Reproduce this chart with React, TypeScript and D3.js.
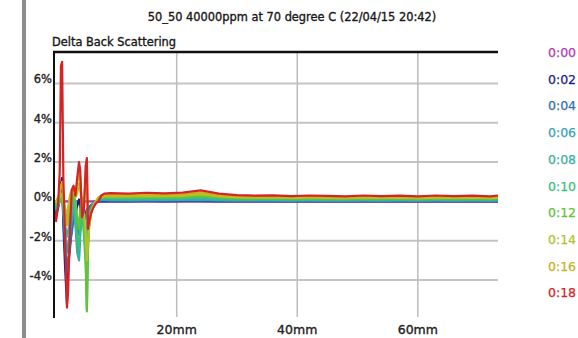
import React from 'react';
import * as d3 from 'd3';

// positions along the tube (mm)
const xMm = [
  -0.3, 0.0, 0.3, 0.6, 0.8, 1.0, 1.2, 1.5, 1.8, 2.0, 2.3, 2.6, 2.9, 3.2, 3.5, 3.8, 4.0, 4.3, 4.6, 4.9,
  5.1, 5.3, 5.5, 5.8, 6.2, 6.6, 7.0, 7.5, 8.0,
  9, 12, 15, 18, 21, 24, 27, 30, 33, 36, 39, 42, 45, 48, 51, 54, 57, 60, 63, 66, 69, 72, 73.3
];

const timeLabels = ['0:00', '0:02', '0:04', '0:06', '0:08', '0:10', '0:12', '0:14', '0:16', '0:18'];
const timeColors = ['#b03cb0', '#1c1c8c', '#2f6fb2', '#3aa2b8', '#38b2a0', '#3cc07c', '#66c238', '#b2c22c', '#cab21c', '#d42424'];

// delta backscattering (%) per scan
const d000 = [
  0, 0, 0, 0, 0, 0, 0, 0, 0, 0, 0, 0, 0, 0, 0, 0, 0, 0, 0, 0, 0, 0, 0, 0, 0, 0, 0, 0, 0,
  0, 0, 0, 0, 0, 0, 0, 0, 0, 0, 0, 0, 0, 0, 0, 0, 0, 0, 0, 0, 0, 0, 0
];
const d002 = [
  -0.3, -0.6, -0.4, 0.2, 0.9, 1.2, -1.2, -3.4, -5.2, -3.2, -2.4, -1.2, -0.5, -0.7, -0.2, 0.1, -0.3, -0.8, -0.5, -0.7,
  -0.4, -0.5, -0.3, -0.2, -0.1, 0.0, 0.0, 0.0, 0.0,
  0.01, 0.0, 0.01, 0.0, 0.01, 0.01, 0.0, 0.0, 0.0, 0.0, 0.0, 0.0, 0.0, 0.0, 0.0, 0.0, 0.0, 0.0, 0.0, 0.0, 0.0, 0.0, 0.0
];
const d004 = [
  -0.2, -0.5, -0.3, 0.1, 0.5, 0.6, -0.8, -2.4, -3.6, -2.9, -2.2, -1.6, -0.9, -0.3, -1.3, -1.7, -0.5, 0.0, -0.6, -0.9,
  -0.5, -0.7, -0.4, -0.2, -0.1, 0.0, 0.02, 0.05, 0.05,
  0.04, 0.03, 0.04, 0.04, 0.04, 0.05, 0.03, 0.03, 0.02, 0.03, 0.02, 0.02, 0.02, 0.02, 0.02, 0.02, 0.02, 0.02, 0.02, 0.02, 0.02, 0.02, 0.02
];
const d006 = [
  -0.2, -0.4, -0.2, 0.1, 0.3, 0.4, -0.5, -1.6, -2.6, -2.2, -1.6, -1.0, -0.4, -0.8, -2.2, -2.8, -1.2, -0.2, -1.0, -1.8,
  -0.9, -1.0, -0.6, -0.3, -0.1, 0.0, 0.05, 0.08, 0.08,
  0.07, 0.06, 0.07, 0.07, 0.08, 0.09, 0.06, 0.05, 0.05, 0.05, 0.04, 0.05, 0.04, 0.04, 0.05, 0.04, 0.05, 0.04, 0.05, 0.04, 0.05, 0.04, 0.05
];
const d008 = [
  -0.1, -0.3, -0.2, 0.0, 0.2, 0.2, -0.4, -1.2, -1.8, -1.5, -1.0, -0.5, -0.2, -1.2, -2.6, -3.0, -1.8, -0.6, -1.4, -2.4,
  -1.6, -1.2, -0.8, -0.4, -0.1, 0.0, 0.08, 0.12, 0.12,
  0.11, 0.10, 0.12, 0.11, 0.12, 0.15, 0.10, 0.08, 0.08, 0.08, 0.07, 0.08, 0.07, 0.07, 0.08, 0.07, 0.08, 0.07, 0.08, 0.07, 0.08, 0.07, 0.08
];
const d010 = [
  -0.1, -0.2, -0.1, 0.0, 0.1, 0.1, -0.3, -0.8, -1.2, -1.0, -0.6, -0.2, 0.2, -0.4, -1.8, -2.4, -1.2, -0.2, -1.6, -3.2,
  -5.5, -2.0, -1.0, -0.5, -0.2, 0.0, 0.1, 0.15, 0.16,
  0.16, 0.15, 0.17, 0.16, 0.17, 0.21, 0.15, 0.12, 0.11, 0.12, 0.10, 0.11, 0.10, 0.10, 0.11, 0.10, 0.11, 0.10, 0.11, 0.10, 0.11, 0.10, 0.11
];
const d012 = [
  0.0, -0.1, 0.0, 0.0, 0.1, 0.1, -0.2, -0.5, -0.8, -0.6, -0.2, 0.2, 0.4, 0.0, -0.8, -1.4, -0.4, 0.2, -1.0, -2.6,
  -5.6, -2.4, -1.2, -0.5, -0.2, 0.0, 0.12, 0.2, 0.2,
  0.21, 0.20, 0.22, 0.21, 0.22, 0.28, 0.20, 0.16, 0.15, 0.16, 0.14, 0.15, 0.14, 0.13, 0.15, 0.14, 0.15, 0.13, 0.15, 0.14, 0.15, 0.13, 0.15
];
const d014 = [
  0.0, 0.0, 0.1, 0.2, 0.3, 0.4, 0.0, -0.4, -0.6, -0.3, 0.2, 0.5, 0.6, 0.2, 0.4, 0.9, 0.6, -0.2, -0.5, -1.6,
  -3.0, -2.0, -1.2, -0.6, -0.2, 0.0, 0.15, 0.25, 0.26,
  0.27, 0.26, 0.28, 0.27, 0.29, 0.36, 0.26, 0.21, 0.19, 0.20, 0.18, 0.19, 0.18, 0.17, 0.19, 0.18, 0.19, 0.17, 0.19, 0.18, 0.19, 0.17, 0.19
];
const d016 = [
  0.0, 0.0, 0.2, 0.4, 0.8, 1.0, 0.4, -0.6, -1.2, -0.6, 0.3, 0.6, 0.7, 0.3, 0.8, 1.6, 1.2, -0.4, -0.3, 1.2,
  1.0, -1.4, -1.2, -0.6, -0.2, 0.0, 0.2, 0.3, 0.32,
  0.33, 0.32, 0.35, 0.33, 0.36, 0.45, 0.32, 0.26, 0.23, 0.25, 0.22, 0.24, 0.22, 0.21, 0.24, 0.22, 0.23, 0.21, 0.24, 0.22, 0.23, 0.21, 0.24
];
const d018 = [
  -0.5, -1.0, -0.3, 1.5, 6.9, 7.1, 1.2, -2.0, -5.4, -4.5, -1.5, 0.6, 0.8, 0.3, 1.2, 2.0, 1.6, -0.8, -0.5, 1.8,
  2.2, -1.4, -1.0, -0.6, -0.3, -0.1, 0.0, 0.3, 0.4,
  0.42, 0.40, 0.44, 0.41, 0.45, 0.56, 0.40, 0.32, 0.29, 0.31, 0.27, 0.30, 0.28, 0.26, 0.30, 0.27, 0.29, 0.26, 0.30, 0.27, 0.29, 0.26, 0.30
];

const seriesValues = [d000, d002, d004, d006, d008, d010, d012, d014, d016, d018];

const yTicks = [6, 4, 2, 0, -2, -4];
const xTicks = [20, 40, 60];

const W = 578;
const H = 338;
const FONT = '"DejaVu Sans", Verdana, sans-serif';

export default function App() {
  const x = d3.scaleLinear().domain([-0.35, 73.3]).range([54, 498]);
  const y = d3.scaleLinear().domain([-5.93, 7.6]).range([318, 52]);

  const line = d3.line<number>()
    .x((_, i) => x(xMm[i]))
    .y(d => y(d));

  // a hair of stroke so the text reads as heavy as the scanned original
  const ink = { stroke: '#222', strokeWidth: 0.35 };

  return (
    <svg width={W} height={H} style={{ position: 'absolute', left: 0, top: 0, background: '#fff' }}>
      <rect x={0} y={0} width={W} height={H} fill="#fff" />
      <rect x={22} y={0} width={4} height={H} fill="#8c8c8c" />

      <text x={292} y={21} textAnchor="middle" fontFamily={FONT} fontSize={11.4} fill="#111" {...ink}>
        50_50 40000ppm at 70 degree C (22/04/15 20:42)
      </text>
      <text x={52} y={46} fontFamily={FONT} fontSize={11.4} fill="#111" {...ink}>
        Delta Back Scattering
      </text>

      {/* horizontal grid */}
      {yTicks.map(t => (
        <line key={'gy' + t} x1={54} x2={498} y1={y(t)} y2={y(t)} stroke="#c4c4c4" strokeWidth={2} />
      ))}
      {/* vertical grid, running down into the label area */}
      {xTicks.map(t => (
        <line key={'gx' + t} x1={x(t)} x2={x(t)} y1={52} y2={317} stroke="#bdbdbd" strokeWidth={1.5} />
      ))}

      {seriesValues.map((vals, i) => (
        <path key={timeLabels[i]} d={line(vals) || ''} fill="none" stroke={timeColors[i]}
          strokeWidth={2.2} strokeLinejoin="round" />
      ))}

      <line x1={53} x2={498} y1={52} y2={52} stroke="#111" strokeWidth={2.5} />
      <line x1={54} x2={54} y1={51} y2={318} stroke="#111" strokeWidth={2} />

      {yTicks.map(t => (
        <text key={'ty' + t} x={52} y={y(t)} textAnchor="end" fontFamily={FONT} fontSize={11.5} fill="#222" {...ink}>
          {t + '%'}
        </text>
      ))}
      {xTicks.map(t => (
        <text key={'tx' + t} x={x(t)} y={334} textAnchor="middle" fontFamily={FONT} fontSize={12.5} fill="#222" {...ink}>
          {t + 'mm'}
        </text>
      ))}

      {timeLabels.map((lab, i) => (
        <text key={lab} x={548} y={57 + i * 26.7} fontFamily={FONT} fontSize={12.5} fill={timeColors[i]}
          stroke={timeColors[i]} strokeWidth={0.25}>
          {lab}
        </text>
      ))}
    </svg>
  );
}
